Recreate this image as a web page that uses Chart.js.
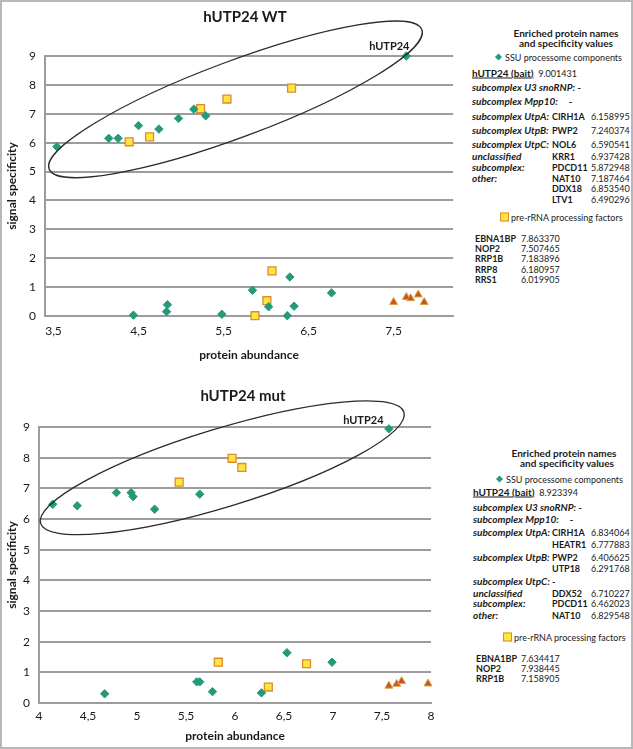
<!DOCTYPE html>
<html>
<head>
<meta charset="utf-8">
<script src="https://cdn.jsdelivr.net/npm/chart.js@4.4.1/dist/chart.umd.min.js"></script>
<style>
  html, body { margin: 0; padding: 0; background: #fff; }
  #fig { position: relative; width: 633px; height: 749px; box-sizing: border-box; border: 2px solid #b8b8b8; overflow: hidden; font-family: Lato, "Open Sans", sans-serif; color: #1a1a1a; }
  .cv { position: absolute; left: -2px; }
  .ttl { position: absolute; font-weight: bold; font-size: 15px; transform: translate(-50%, -50%); white-space: nowrap; }
  .t { position: absolute; font-size: 9px; line-height: 11px; white-space: nowrap; transform: translateY(-50%); }
  .h { font-size: 10px; font-weight: bold; transform: translate(-50%, -50%); }
  .b { font-weight: bold; }
  .bl { font-weight: bold; font-size: 10px; }
  .bi { font-weight: bold; font-style: italic; font-size: 10px; }
  .u { text-decoration: underline; }
  .dia { display: inline-block; width: 5px; height: 5px; background: #259a7b; transform: rotate(45deg); margin: 0 4px 1px 1px; }
  .sq { display: inline-block; width: 7px; height: 7px; background: #ffe640; border: 1px solid #e08a2c; margin: 0 2px -1px 0; }
</style>
</head>
<body>
<div id="fig">
  <canvas id="wt" class="cv" style="top:-2px" width="460" height="365"></canvas>
  <canvas id="mut" class="cv" style="top:368px" width="460" height="379"></canvas>
  <div class="ttl" style="left:243px;top:14px">hUTP24 WT</div>
  <div class="ttl" style="left:241px;top:393px">hUTP24 mut</div>
  <div id="panel"></div>
</div>
<script>
// hUTP24 WT: protein abundance (x) vs signal specificity (y)
const wtSsuX = [3.54, 4.15, 4.26, 4.50, 4.74, 4.97, 5.15, 5.29, 7.65, 4.44, 4.84, 4.83, 5.48, 5.84, 6.03, 6.25, 6.28, 6.33, 6.77];
const wtSsuY = [5.86, 6.15, 6.15, 6.59, 6.47, 6.84, 7.16, 6.93, 9.00, 0.03, 0.39, 0.15, 0.06, 0.89, 0.32, 0.01, 1.35, 0.34, 0.80];
const wtPreX = [4.39, 4.63, 5.23, 5.54, 6.30, 6.07, 6.01, 5.87];
const wtPreY = [6.03, 6.20, 7.18, 7.51, 7.89, 1.56, 0.53, 0.01];
const wtOtherX = [7.50, 7.65, 7.70, 7.79, 7.86];
const wtOtherY = [0.48, 0.65, 0.61, 0.74, 0.48];
const wtTicksX = [3.5, 4.5, 5.5, 6.5, 7.5];

// hUTP24 mut
const mutSsuX = [4.14, 4.39, 4.79, 4.94, 4.96, 5.18, 5.64, 7.57, 4.67, 5.61, 5.64, 5.77, 6.27, 6.53, 6.99];
const mutSsuY = [6.48, 6.43, 6.86, 6.86, 6.73, 6.32, 6.81, 8.94, 0.30, 0.69, 0.69, 0.37, 0.33, 1.64, 1.33];
const mutPreX = [5.43, 5.97, 6.07, 5.83, 6.34, 6.73];
const mutPreY = [7.20, 7.98, 7.68, 1.33, 0.52, 1.28];
const mutOtherX = [7.57, 7.65, 7.70, 7.97];
const mutOtherY = [0.56, 0.62, 0.71, 0.63];
const mutTicksX = [4, 4.5, 5, 5.5, 6, 6.5, 7, 7.5, 8];

const FONT = 'Lato, "Open Sans", sans-serif';
const GRID = '#9c9c9c';

function pts(xs, ys) {
    return xs.map((x, i) => ({ x: x, y: ys[i] }));
}

// ellipse round the enriched cluster (centre in data units) + bait label
const ellipsePlugin = {
    id: 'ellipse',
    afterDatasetsDraw(chart, args, o) {
        const ctx = chart.ctx;
        const cx = chart.scales.x.getPixelForValue(o.cx);
        const cy = chart.scales.y.getPixelForValue(o.cy);
        ctx.save();
        ctx.strokeStyle = '#2b2b2b';
        ctx.lineWidth = 1.3;
        ctx.beginPath();
        ctx.ellipse(cx, cy, o.rx, o.ry, o.angle * Math.PI / 180, 0, Math.PI * 2);
        ctx.stroke();
        const data = chart.data.datasets[0].data;
        let best = 0;
        data.forEach((p, i) => { if (p.y > data[best].y) best = i; });
        const el = chart.getDatasetMeta(0).data[best];
        ctx.fillStyle = '#1a1a1a';
        ctx.font = 'bold 11px ' + FONT;
        ctx.textAlign = 'center';
        ctx.textBaseline = 'middle';
        ctx.fillText('hUTP24', el.x + o.dx, el.y + o.dy);
        ctx.restore();
    }
};

function makeChart(id, d) {
    const ctx = document.getElementById(id).getContext('2d');
    return new Chart(ctx, {
        type: 'scatter',
        data: {
            datasets: [{
                label: 'SSU processome components',
                data: pts(d.ssuX, d.ssuY),
                pointStyle: 'rectRot',
                pointRadius: 4.2,
                backgroundColor: '#259a7b',
                borderColor: '#259a7b',
                borderWidth: 1,
                clip: false
            }, {
                label: 'pre-rRNA processing factors',
                data: pts(d.preX, d.preY),
                pointStyle: 'rect',
                pointRadius: 5.6,
                backgroundColor: '#ffe640',
                borderColor: '#e08a2c',
                borderWidth: 1.3,
                clip: false
            }, {
                label: 'other',
                data: pts(d.otherX, d.otherY),
                pointStyle: 'triangle',
                pointRadius: 4.6,
                backgroundColor: '#c4561f',
                borderColor: '#dba04a',
                borderWidth: 1,
                clip: false
            }]
        },
        options: {
            responsive: false,
            animation: false,
            layout: { padding: { left: 0, right: d.padRight, top: d.padTop, bottom: 0 } },
            plugins: {
                legend: { display: false },
                tooltip: { enabled: false },
                ellipse: d.ellipse
            },
            scales: {
                x: {
                    type: 'linear',
                    min: d.xMin,
                    max: d.xMax,
                    afterBuildTicks: (s) => { s.ticks = d.ticksX.map(v => ({ value: v })); },
                    afterFit: (s) => { s.height = d.xHeight; },
                    grid: { display: false, drawTicks: false },
                    border: { color: GRID, width: 2 },
                    ticks: {
                        padding: d.xTickPad,
                        color: '#1a1a1a',
                        font: { family: FONT, size: 12 },
                        callback: v => String(v).replace('.', ',')
                    },
                    title: {
                        display: true,
                        text: 'protein abundance',
                        color: '#1a1a1a',
                        font: { family: FONT, size: 12, weight: 'bold' },
                        padding: { top: 0, bottom: d.xTitlePad }
                    }
                },
                y: {
                    min: 0,
                    max: 9,
                    afterFit: (s) => { s.width = d.yWidth; },
                    grid: { color: GRID, lineWidth: 2, drawTicks: false },
                    border: { color: GRID, width: 2 },
                    ticks: {
                        stepSize: 1,
                        padding: d.yTickPad,
                        color: '#1a1a1a',
                        font: { family: FONT, size: 12 }
                    },
                    title: {
                        display: true,
                        text: 'signal specificity',
                        color: '#1a1a1a',
                        font: { family: FONT, size: 12, weight: 'bold' },
                        padding: { top: 5, bottom: 0 }
                    }
                }
            }
        },
        plugins: [ellipsePlugin]
    });
}

makeChart('wt', {
    ssuX: wtSsuX, ssuY: wtSsuY, preX: wtPreX, preY: wtPreY, otherX: wtOtherX, otherY: wtOtherY,
    ticksX: wtTicksX, xMin: 3.4, xMax: 8.2,
    padTop: 56, padRight: 6, xHeight: 49, yWidth: 45, xTickPad: 8, yTickPad: 9, xTitlePad: 3,
    ellipse: { cx: 5.64, cy: 7.5, rx: 199, ry: 38, angle: -20.5, dx: -17, dy: -10 }
});

makeChart('mut', {
    ssuX: mutSsuX, ssuY: mutSsuY, preX: mutPreX, preY: mutPreY, otherX: mutOtherX, otherY: mutOtherY,
    ticksX: mutTicksX, xMin: 4, xMax: 8,
    padTop: 57, padRight: 29, xHeight: 46, yWidth: 39, xTickPad: 6, yTickPad: 9, xTitlePad: 6,
    ellipse: { cx: 5.87, cy: 7.67, rx: 190, ry: 39, angle: -17, dx: -25.5, dy: -8 }
});

// text panels on the right
const panel = document.getElementById('panel');
function put(x, y, html, cls) {
    const el = document.createElement('div');
    el.className = 't ' + (cls || '');
    el.style.left = (x - 2) + 'px';
    el.style.top = (y - 2) + 'px';
    el.innerHTML = html;
    panel.appendChild(el);
}

// WT panel
put(566, 33, 'Enriched protein names', 'h');
put(566, 43, 'and specificity values', 'h');
put(495, 57, '<span class="dia"></span>SSU processome components');
put(472, 73, '<span class="bl u">hUTP24 (bait)</span>&nbsp; 9.001431');
put(472, 87, 'subcomplex U3 snoRNP:&nbsp;<b>-</b>', 'bi');
put(472, 101, 'subcomplex Mpp10:&nbsp;&nbsp;&nbsp;&nbsp;&nbsp;<b>-</b>', 'bi');
const wtRows = [
    [116, 'subcomplex UtpA:', 'CIRH1A', '6.158995'],
    [130, 'subcomplex UtpB:', 'PWP2', '7.240374'],
    [144, 'subcomplex UtpC:', 'NOL6', '6.590541'],
    [156, 'unclassified', 'KRR1', '6.937428'],
    [167, 'subcomplex:', 'PDCD11', '5.872948'],
    [178, 'other:', 'NAT10', '7.187464'],
    [188, '', 'DDX18', '6.853540'],
    [199, '', 'LTV1', '6.490296']
];
wtRows.forEach(r => {
    if (r[1]) put(472, r[0], r[1], 'bi');
    put(552, r[0], r[2], 'b');
    put(591, r[0], r[3]);
});
put(500, 217, '<span class="sq"></span>pre-rRNA processing factors');
const wtPre = [
    [238, 'EBNA1BP', '7.863370'], [248, 'NOP2', '7.507465'], [258, 'RRP1B', '7.183896'],
    [269, 'RRP8', '6.180957'], [279, 'RRS1', '6.019905']
];
wtPre.forEach(r => { put(475, r[0], r[1], 'b'); put(521, r[0], r[2]); });

// mut panel
put(564, 453, 'Enriched protein names', 'h');
put(567, 463, 'and specificity values', 'h');
put(496, 479, '<span class="dia"></span>SSU processome components');
put(473, 492, '<span class="bl u">hUTP24 (bait)</span>&nbsp; 8.923394');
put(473, 507, 'subcomplex U3 snoRNP:&nbsp;<b>-</b>', 'bi');
put(473, 519, 'subcomplex Mpp10:&nbsp;&nbsp;&nbsp;&nbsp;&nbsp;<b>-</b>', 'bi');
const mutRows = [
    [532, 'subcomplex UtpA:', 'CIRH1A', '6.834064'],
    [544, '', 'HEATR1', '6.777883'],
    [557, 'subcomplex UtpB:', 'PWP2', '6.406625'],
    [568, '', 'UTP18', '6.291768'],
    [581, 'subcomplex UtpC:', '-', ''],
    [593, 'unclassified', 'DDX52', '6.710227'],
    [603, 'subcomplex:', 'PDCD11', '6.462023'],
    [615, 'other:', 'NAT10', '6.829548']
];
mutRows.forEach(r => {
    if (r[1]) put(473, r[0], r[1], 'bi');
    put(552, r[0], r[2], 'b');
    if (r[3]) put(591, r[0], r[3]);
});
put(503, 637, '<span class="sq"></span>pre-rRNA processing factors');
const mutPre = [[658, 'EBNA1BP', '7.634417'], [668, 'NOP2', '7.938445'], [678, 'RRP1B', '7.158905']];
mutPre.forEach(r => { put(476, r[0], r[1], 'b'); put(521, r[0], r[2]); });
</script>
</body>
</html>
